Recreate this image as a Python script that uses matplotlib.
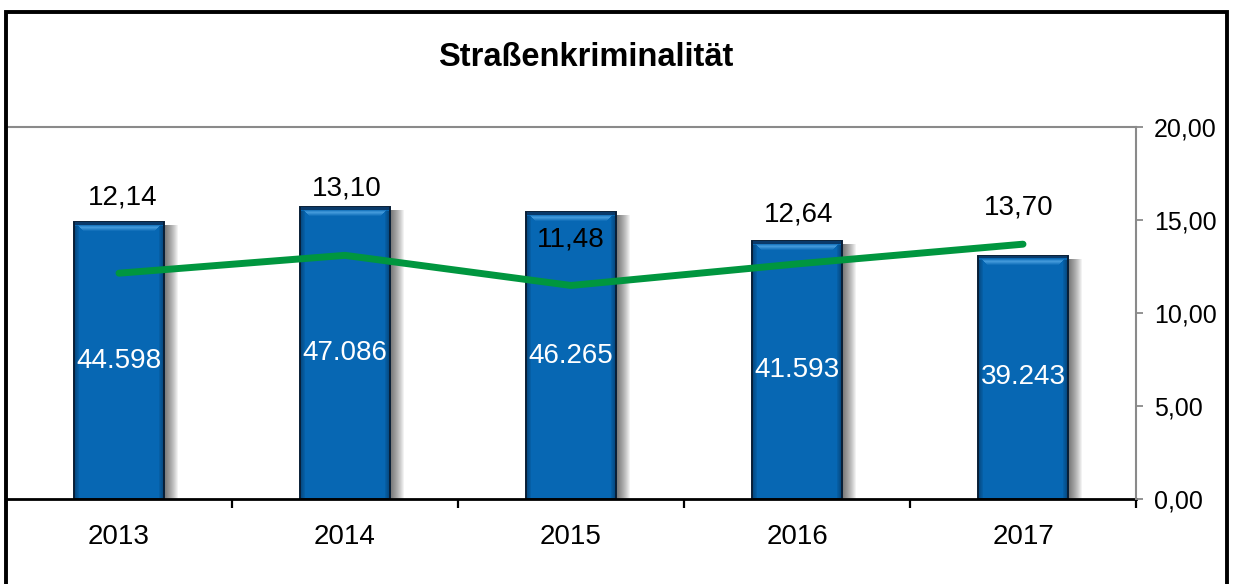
import numpy as np
import matplotlib
matplotlib.use("Agg")
import matplotlib.pyplot as plt
from matplotlib.patches import Rectangle

plt.rcParams['font.family'] = ['Liberation Sans', 'DejaVu Sans']

# data
years = ['2013', '2014', '2015', '2016', '2017']
faelle = [44598, 47086, 46265, 41593, 39243]
quote = [12.14, 13.10, 11.48, 12.64, 13.70]

# hand placed label offsets (points) like in the original sheet
lbl_dx = [2.6, 1.4, 0.0, 1.4, -2.9]
lbl_dy = [54.7, 48.2, 33.1, 35.3, 26.6]

W, H = 1234, 584
fig = plt.figure(figsize=(W / 100, H / 100), dpi=100)
ax = fig.add_axes([6 / W, 1 - 499 / H, (1136 - 6) / W, (499 - 127) / H])
ax2 = ax.twinx()

x = np.arange(len(years))
px = 1 / 226.0  # one pixel in category units
bw = 0.4
ymax = 60000
py = ymax / 372.0

# shadow right of the bars
for k in range(1, 15):
    ax.bar(x + k * px, [v - 3 * py for v in faelle], width=bw, color='black', alpha=0.05,
           zorder=1, linewidth=0)

ax.bar(x, faelle, width=bw, color='#0767B3', edgecolor='#081E36', linewidth=1.4, zorder=2)

# darker sides and bevel at the top of each bar
for i, v in enumerate(faelle):
    for k in range(4):
        a = 0.35 - k * 0.08
        ax.bar(x[i] - bw / 2 + (k + 1.5) * px, v - 4 * py, width=px, color='#041A33', alpha=a,
               linewidth=0, zorder=3)
        ax.bar(x[i] + bw / 2 - (k + 1.5) * px, v - 4 * py, width=px, color='#041A33', alpha=a,
               linewidth=0, zorder=3)
    for k, a in enumerate([0.25, 0.55, 0.7, 0.55, 0.35, 0.15]):
        ax.bar(x[i], py, bottom=v - (4 + k) * py, width=bw - (8 + 2 * k) * px, color='#5AAEEA',
               alpha=a, linewidth=0, zorder=3)
    ax.bar(x[i], 2.5 * py, bottom=v - 2.5 * py, width=bw - 2 * px, color='#0A3A6A',
           linewidth=0, zorder=3)
    ax.text(x[i], v / 2, f"{v:,}".replace(',', '.'), color='white', fontsize=20,
            ha='center', va='center', zorder=5)

ax.set_xlim(-0.5, len(years) - 0.5)
ax.set_ylim(0, ymax)
ax.set_yticks([])
ax.set_xticks(np.arange(-0.5, len(years)))
ax.set_xticklabels([])
ax.set_xticks(x, minor=True)
ax.set_xticklabels(years, minor=True, fontsize=20)
ax.tick_params(axis='x', which='major', direction='out', length=6.5, width=1.6, color='black')
ax.tick_params(axis='x', which='minor', length=0, pad=18)

for s in ['left', 'right']:
    ax.spines[s].set_visible(False)
ax.spines['top'].set_color('#8A8A8A')
ax.spines['top'].set_linewidth(1.5)
ax.spines['bottom'].set_color('black')
ax.spines['bottom'].set_linewidth(2)
ax.spines['bottom'].set_zorder(6)

# rate line on the secondary axis
ax2.plot(x, quote, color='#00963F', linewidth=5, solid_capstyle='round', zorder=4)
for i, q in enumerate(quote):
    ax2.annotate(f"{q:.2f}".replace('.', ','), (x[i], q), xytext=(lbl_dx[i], lbl_dy[i]),
                 textcoords='offset points', ha='center', va='center', fontsize=20)

ax2.set_ylim(0, 20)
ax2.set_yticks([0, 5, 10, 15, 20])
ax2.set_yticklabels([f"{t:.2f}".replace('.', ',') for t in [0, 5, 10, 15, 20]], fontsize=18)
ax2.tick_params(axis='y', direction='out', length=5, width=1.3, color='#8A8A8A', pad=8)
for s in ['left', 'top', 'bottom']:
    ax2.spines[s].set_visible(False)
ax2.spines['right'].set_color('#8A8A8A')
ax2.spines['right'].set_linewidth(1.5)

fig.text(586 / W, 1 - 58 / H, 'Straßenkriminalität', fontsize=23.5, fontweight='bold',
         ha='center', va='center')

# chart frame
fig.patches.append(Rectangle((6 / W, -0.2), (1227 - 6) / W, 1.2 - 12 / H, transform=fig.transFigure,
                             fill=False, edgecolor='black', linewidth=2.8, zorder=10))

fig.savefig('out.png', dpi=100)
